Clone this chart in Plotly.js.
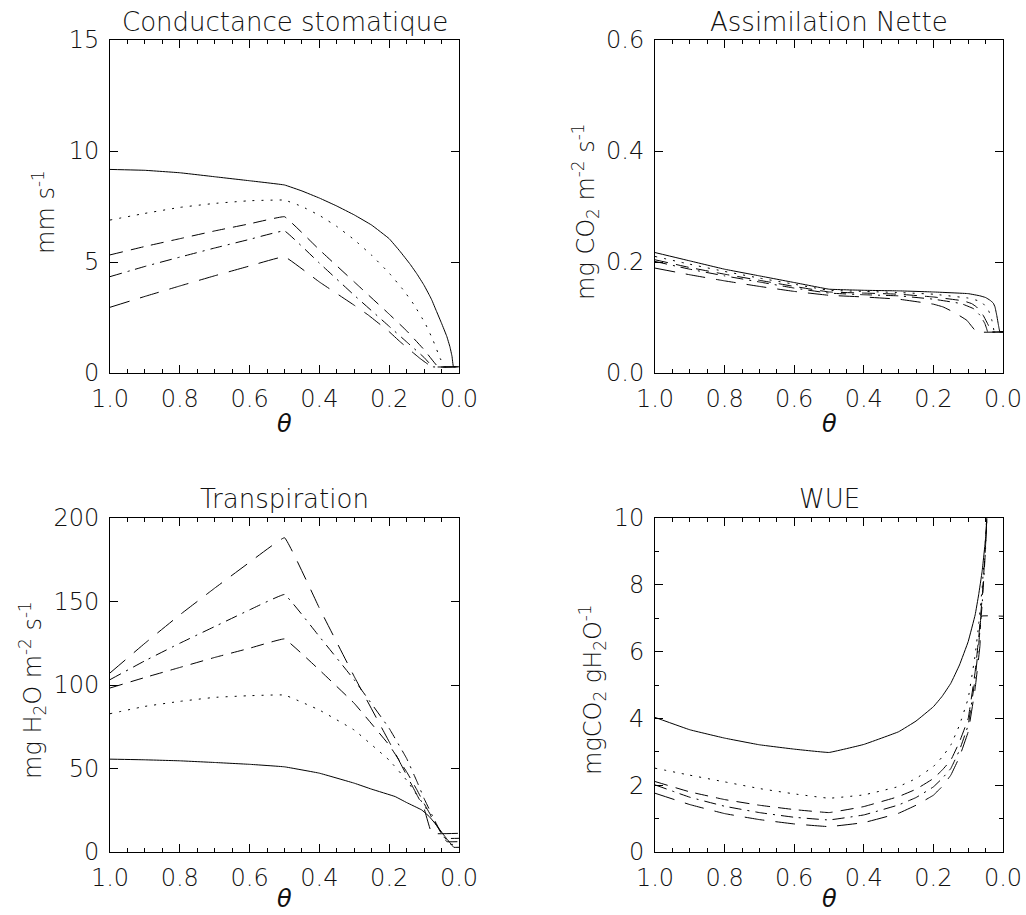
<!DOCTYPE html>
<html>
<head>
<meta charset="utf-8">
<script src="https://cdn.plot.ly/plotly-3.0.1.min.js"></script>
<style>html,body{margin:0;padding:0;background:#fff;}#chart{width:1026px;height:915px;}</style>
</head>
<body>
<div id="chart"></div>
<script>
// ---------- tick labels ----------
const thetaTicks = [1.0, 0.8, 0.6, 0.4, 0.2, 0.0];
const thetaTickText = ["1.0", "0.8", "0.6", "0.4", "0.2", "0.0"];
const gsTicks = [0, 5, 10, 15];
const gsTickText = ["0", "5", "10", "15"];
const anTicks = [0, 0.2, 0.4, 0.6];
const anTickText = ["0.0", "0.2", "0.4", "0.6"];
const trTicks = [0, 50, 100, 150, 200];
const trTickText = ["0", "50", "100", "150", "200"];
const wueTicks = [0, 2, 4, 6, 8, 10];
const wueTickText = ["0", "2", "4", "6", "8", "10"];

// ---------- panel titles / axis titles ----------
const panelTitles = ["Conductance stomatique", "Assimilation Nette", "Transpiration", "WUE"];
const yTitles = ["mm s<sup>-1</sup>", "mg CO<sub>2</sub> m<sup>-2</sup> s<sup>-1</sup>",
                 "mg H<sub>2</sub>O m<sup>-2</sup> s<sup>-1</sup>", "mgCO<sub>2</sub> gH<sub>2</sub>O<sup>-1</sup>"];
const xTitle = "<i>θ</i>";

// ---------- Conductance stomatique (mm s-1) ----------
const gsSolidT = [1,0.9,0.8,0.7,0.6,0.5,0.45,0.4,0.35,0.3,0.25,0.2,0.17,0.14,0.12,0.1,0.083,0.078,0.065,0.05,0.035,0.026,0.02,0.016,0];
const gsSolidV = [9.17,9.13,9.02,8.84,8.66,8.47,8.2,7.88,7.52,7.12,6.66,6.05,5.5,4.9,4.45,3.95,3.45,3.29,2.8,2.24,1.65,1.18,0.75,0.28,0.28];
const gsDotT = [1,0.9,0.8,0.7,0.6,0.5,0.45,0.4,0.35,0.3,0.25,0.2,0.16,0.13,0.097,0.075,0.054,0.04,0];
const gsDotV = [6.89,7.19,7.46,7.64,7.76,7.79,7.5,7.1,6.6,6.0,5.3,4.5,3.75,3.1,2.24,1.5,0.66,0.28,0.28];
const gsDashT = [1,0.9,0.8,0.7,0.6,0.5,0.4,0.3,0.2,0.15,0.1,0.06,0];
const gsDashV = [5.32,5.7,6.05,6.4,6.72,7.04,5.55,4.1,2.65,1.9,1.05,0.28,0.28];
const gsDashDotT = [1,0.9,0.8,0.7,0.6,0.5,0.4,0.3,0.2,0.15,0.1,0.075,0];
const gsDashDotV = [4.34,4.8,5.22,5.63,6.02,6.40,4.95,3.5,2.1,1.4,0.7,0.28,0.28];
const gsLongT = [1,0.9,0.8,0.7,0.6,0.5,0.4,0.3,0.26,0.2,0.169,0.112,0.078,0];
const gsLongV = [2.96,3.45,3.92,4.38,4.82,5.24,4.1,3.05,2.61,1.86,1.41,0.66,0.28,0.28];

// ---------- Assimilation Nette (mg CO2 m-2 s-1) ----------
const anSolidT = [1,0.9,0.8,0.7,0.6,0.5,0.4,0.3,0.2,0.1,0.066,0.05,0.037,0.028,0.023,0.018,0.013,0.009,0];
const anSolidV = [0.217,0.202,0.187,0.175,0.163,0.151,0.149,0.148,0.146,0.143,0.139,0.136,0.131,0.126,0.119,0.104,0.086,0.074,0.074];
const anDotT = [1,0.9,0.8,0.7,0.6,0.5,0.4,0.3,0.2,0.1,0.07,0.057,0.042,0.036,0.032,0.028,0.025,0];
const anDotV = [0.210,0.196,0.183,0.171,0.160,0.149,0.147,0.145,0.142,0.135,0.130,0.125,0.113,0.104,0.095,0.083,0.074,0.074];
const anDashT = [1,0.9,0.8,0.7,0.6,0.5,0.4,0.3,0.2,0.114,0.09,0.076,0.057,0.042,0.037,0.035,0];
const anDashV = [0.204,0.190,0.178,0.167,0.156,0.146,0.144,0.142,0.137,0.130,0.125,0.119,0.104,0.086,0.077,0.074,0.074];
const anDashDotT = [1,0.9,0.8,0.7,0.6,0.5,0.4,0.3,0.2,0.12,0.085,0.066,0.052,0.047,0.044,0];
const anDashDotV = [0.201,0.187,0.175,0.164,0.153,0.144,0.141,0.139,0.133,0.125,0.116,0.104,0.089,0.080,0.074,0.074];
const anLongT = [1,0.9,0.8,0.7,0.6,0.5,0.4,0.3,0.2,0.172,0.14,0.104,0.076,0];
const anLongV = [0.189,0.177,0.166,0.156,0.147,0.140,0.137,0.133,0.124,0.119,0.109,0.095,0.074,0.074];

// ---------- Transpiration (mg H2O m-2 s-1) ----------
const trSolidT = [1,0.9,0.8,0.7,0.6,0.5,0.4,0.3,0.25,0.183,0.15,0.107,0.085,0.069,0.04,0.02,0.015,0];
const trSolidV = [55.6,55.2,54.6,53.6,52.5,51.0,47.2,41.2,37.6,33.2,29.6,25.2,21.2,17.2,9.2,4.0,2.8,2.8];
const trDotT = [1,0.9,0.8,0.7,0.6,0.5,0.4,0.3,0.2,0.15,0.12,0.1,0.07,0.05,0.035,0.025,0];
const trDotV = [82.8,87.2,90.2,92.6,93.6,94.0,85,73,55,43,34,28,18,11.5,7,4.6,4.6];
const trDashT = [1,0.9,0.8,0.7,0.6,0.5,0.4,0.3,0.2,0.15,0.12,0.1,0.07,0.05,0.035,0];
const trDashV = [98.2,104.5,110.5,116.5,122,127.6,109,89,64,48,37,29,18,11,6.2,6.2];
const trDashDotT = [1,0.9,0.8,0.7,0.6,0.5,0.4,0.3,0.2,0.15,0.12,0.1,0.07,0.05,0.04,0];
const trDashDotV = [103.2,114.5,125,135,145,154.2,129,103,74,56,42,32,19,11,8.2,8.2];
const trLongT = [1,0.9,0.8,0.7,0.6,0.5,0.4,0.3,0.2,0.15,0.12,0.1,0.078,0];
const trLongV = [107.2,125,142,158,173.5,188.2,146,105,66,46,34,26,11.2,11.2];

// ---------- WUE (mgCO2 gH2O-1) ----------
const wueT = [1,0.9,0.8,0.7,0.6,0.5,0.4,0.3,0.25,0.2,0.175,0.15,0.125,0.1,0.08,0.07,0.06,0.05,0.04];
const wueSolidV = [4.03,3.66,3.41,3.21,3.08,2.98,3.22,3.6,3.92,4.35,4.66,5.05,5.6,6.3,7.1,7.7,8.4,9.4,11.2];
const wueDotV = [2.51,2.3,2.1,1.9,1.74,1.61,1.71,1.96,2.2,2.56,2.84,3.2,3.8,4.6,5.9,6.8,7.9,9.4,11.5];
const wueDashV = [2.11,1.8,1.57,1.4,1.27,1.18,1.36,1.66,1.88,2.2,2.45,2.75,3.3,4.0,5.4,6.4,7.6,9.2,11.5];
const wueDashDotV = [2.01,1.64,1.37,1.18,1.04,0.96,1.11,1.41,1.63,1.95,2.2,2.5,3.05,3.8,5.2,6.2,7.4,9.1,11.5];
const wueLongT = [1,0.9,0.8,0.7,0.6,0.5,0.4,0.3,0.25,0.2,0.175,0.15,0.125,0.1,0.08,0.066,0.063,0];
const wueLongV = [1.76,1.42,1.15,0.97,0.84,0.76,0.88,1.16,1.4,1.7,1.96,2.3,2.85,3.6,4.9,6.2,7.06,7.06];

// ---------- styles ----------
const W = 1026, H = 915;
const FONT = "DejaVu Sans";
const TXT = "#111";
const dashes = {solid: "solid", dot: "2px,7px", dash: "13px,8px", dashdot: "12px,6px,2px,6px", long: "20px,11px"};

function tr(x, y, ax, d) {
  return {x: x, y: y, xaxis: "x" + ax, yaxis: "y" + ax, type: "scatter", mode: "lines",
          line: {color: "#000", width: 1, dash: dashes[d], shape: "spline", smoothing: 0.2}, hoverinfo: "skip", showlegend: false};
}

const data = [
  tr(gsSolidT, gsSolidV, "", "solid"), tr(gsDotT, gsDotV, "", "dot"), tr(gsDashT, gsDashV, "", "dash"),
  tr(gsDashDotT, gsDashDotV, "", "dashdot"), tr(gsLongT, gsLongV, "", "long"),
  tr(anSolidT, anSolidV, "2", "solid"), tr(anDotT, anDotV, "2", "dot"), tr(anDashT, anDashV, "2", "dash"),
  tr(anDashDotT, anDashDotV, "2", "dashdot"), tr(anLongT, anLongV, "2", "long"),
  tr(trSolidT, trSolidV, "3", "solid"), tr(trDotT, trDotV, "3", "dot"), tr(trDashT, trDashV, "3", "dash"),
  tr(trDashDotT, trDashDotV, "3", "dashdot"), tr(trLongT, trLongV, "3", "long"),
  tr(wueT, wueSolidV, "4", "solid"), tr(wueT, wueDotV, "4", "dot"), tr(wueT, wueDashV, "4", "dash"),
  tr(wueT, wueDashDotV, "4", "dashdot"), tr(wueLongT, wueLongV, "4", "long")
];

const xDom = [[110 / W, 459 / W], [655 / W, 1003 / W]];
const yDom = [[1 - 373 / H, 1 - 40 / H], [1 - 852 / H, 1 - 518 / H]];
const tickFont = {family: FONT, size: 24, color: TXT, weight: 200};

function xAx(dom, anchor) {
  return {domain: dom, anchor: anchor, range: [1, 0], tickmode: "array", tickvals: thetaTicks, ticktext: thetaTickText,
          ticks: "inside", ticklen: 8, tickwidth: 1, tickcolor: "#000", showline: true, linecolor: "#000", linewidth: 1,
          mirror: "allticks", showgrid: false, zeroline: false, tickfont: tickFont, ticklabelstandoff: 4,
          minor: {tickmode: "linear", tick0: 0, dtick: 0.05, ticks: "inside", ticklen: 4, tickwidth: 1, tickcolor: "#000", showgrid: false}};
}
function yAx(dom, anchor, range, tv, tt, minor) {
  const a = {domain: dom, anchor: anchor, range: range, tickmode: "array", tickvals: tv, ticktext: tt,
          ticks: "inside", ticklen: 8, tickwidth: 1, tickcolor: "#000", showline: true, linecolor: "#000", linewidth: 1,
          mirror: "allticks", showgrid: false, zeroline: false, tickfont: tickFont, ticklabelstandoff: 5};
  if (minor) a.minor = {tickmode: "linear", tick0: 0, dtick: minor, ticks: "inside", ticklen: 4, tickwidth: 1, tickcolor: "#000", showgrid: false};
  return a;
}

const annFont = {family: FONT, size: 26, color: TXT, weight: 200};
const yTitleFont = {family: FONT, size: 24, color: TXT, weight: 200};
const centersX = [(110 + 459) / 2, (655 + 1003) / 2, (110 + 459) / 2, (655 + 1003) / 2];
const titleY = [22, 22, 499, 499];
const yTitleX = [44, 586, 32, 592];
const yTitleY = [212, 212, 690, 690];
const annotations = [];
for (let i = 0; i < 4; i++) {
  annotations.push({text: panelTitles[i], xref: "paper", yref: "paper", x: centersX[i] / W, y: 1 - titleY[i] / H,
                    xanchor: "center", yanchor: "middle", showarrow: false, font: annFont});
  annotations.push({text: yTitles[i], xref: "paper", yref: "paper", x: yTitleX[i] / W, y: 1 - yTitleY[i] / H,
                    xanchor: "center", yanchor: "middle", textangle: -90, showarrow: false, font: yTitleFont});
  const bottomRow = i >= 2;
  annotations.push({text: xTitle, xref: "paper", yref: "paper", x: centersX[i] / W,
                    y: bottomRow ? 0 : 1 - 424 / H, xanchor: "center", yanchor: bottomRow ? "bottom" : "middle",
                    showarrow: false, font: {family: FONT, size: 24, color: TXT}});
}

const layout = {
  width: W, height: H, margin: {l: 0, r: 0, t: 0, b: 0}, paper_bgcolor: "#fff", plot_bgcolor: "#fff",
  showlegend: false,
  xaxis: xAx(xDom[0], "y"), yaxis: yAx(yDom[0], "x", [0, 15], gsTicks, gsTickText, null),
  xaxis2: xAx(xDom[1], "y2"), yaxis2: yAx(yDom[0], "x2", [0, 0.6], anTicks, anTickText, null),
  xaxis3: xAx(xDom[0], "y3"), yaxis3: yAx(yDom[1], "x3", [0, 200], trTicks, trTickText, null),
  xaxis4: xAx(xDom[1], "y4"), yaxis4: yAx(yDom[1], "x4", [0, 10], wueTicks, wueTickText, 1),
  annotations: annotations
};

Plotly.newPlot("chart", data, layout, {staticPlot: true, displayModeBar: false});
</script>
</body>
</html>
